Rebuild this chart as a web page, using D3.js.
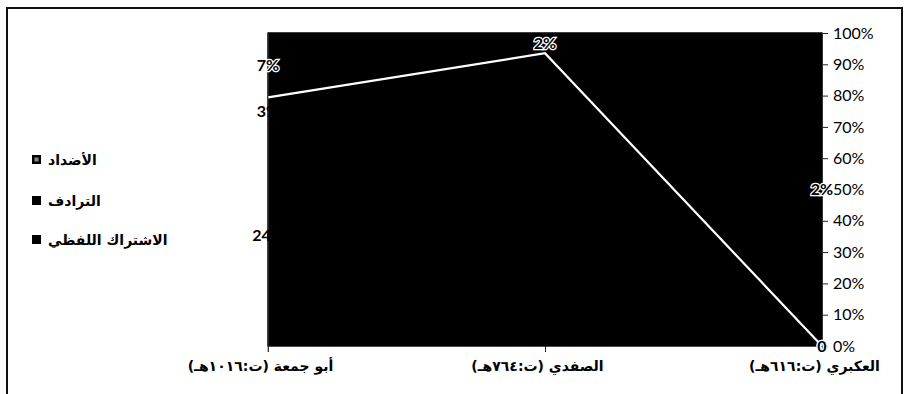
<!DOCTYPE html>
<html lang="ar">
<head>
<meta charset="utf-8">
<script src="https://cdn.jsdelivr.net/npm/d3@7/dist/d3.min.js"></script>
<style>
  html, body { margin: 0; padding: 0; background: #fff; }
  svg { display: block; }
</style>
</head>
<body>
<svg id="chart" width="907" height="394"></svg>
<script>
// Authors in chronological order (drawn right-to-left)
const categories = ["العكبري (ت:٦١٦هـ)", "الصفدي (ت:٧٦٤هـ)", "أبو جمعة (ت:١٠١٦هـ)"];

// Share of each phenomenon per author, in percent
const seriesNames = ["الاشتراك اللفظي", "الترادف", "الأضداد"];
const mushtarak = [0, 21, 24];   // الاشتراك اللفظي
const taraduf   = [0, 8, 3];     // الترادف
const addad     = [2, 2, 7];     // الأضداد

const yTicks = [0, 0.1, 0.2, 0.3, 0.4, 0.5, 0.6, 0.7, 0.8, 0.9, 1];

const rows = categories.map((c, i) => ({
  cat: c,
  [seriesNames[0]]: mushtarak[i],
  [seriesNames[1]]: taraduf[i],
  [seriesNames[2]]: addad[i]
}));

const svg = d3.select("#chart");
const plot = { left: 268, right: 822, top: 33, bottom: 346 };
const frameRight = 902;

// Outer chart frame
svg.append("rect")
  .attr("x", 7).attr("y", 8)
  .attr("width", frameRight - 7).attr("height", 400)
  .attr("fill", "none").attr("stroke", "#111").attr("stroke-width", 2);

const x = d3.scalePoint().domain(categories).range([plot.right, plot.left]);
const y = d3.scaleLinear().domain([0, 1]).range([plot.bottom, plot.top]);

const stack = d3.stack().keys(seriesNames).offset(d3.stackOffsetExpand);
const layers = stack(rows);

const area = d3.area()
  .x(d => x(d.data.cat))
  .y0(d => y(d[0]))
  .y1(d => y(d[1]));

svg.append("g").selectAll("path")
  .data(layers)
  .join("path")
  .attr("d", area)
  .attr("fill", "#000")
  .attr("stroke", "#000")
  .attr("stroke-width", 1.6)
  .attr("stroke-linejoin", "round");

// Light edge where the top series begins
const edge = d3.line()
  .x(d => x(d.data.cat))
  .y(d => y(d[0]));
svg.append("path")
  .datum(layers[2])
  .attr("d", edge)
  .attr("fill", "none")
  .attr("stroke", "#fff")
  .attr("stroke-width", 2.2);

// Value axis on the right
const yAxis = d3.axisRight(y)
  .tickValues(yTicks)
  .tickFormat(d3.format(".0%"))
  .tickSize(5)
  .tickPadding(5);
const ya = svg.append("g")
  .attr("transform", `translate(${plot.right + 1},0)`)
  .call(yAxis);
ya.select(".domain").remove();
ya.selectAll(".tick line").attr("stroke", "#222");
ya.selectAll(".tick text")
  .attr("font-family", "Lato, 'Open Sans', sans-serif")
  .attr("font-size", 16)
  .attr("fill", "#000");

// Category axis along the bottom
const xAxis = d3.axisBottom(x).tickSize(6).tickPadding(9);
const xa = svg.append("g")
  .attr("transform", `translate(0,${plot.bottom})`)
  .call(xAxis);
xa.select(".domain").attr("stroke", "#555").attr("stroke-width", 0.6);
xa.selectAll(".tick line").attr("stroke", "#222");
xa.selectAll(".tick text")
  .attr("font-family", "'DejaVu Sans', sans-serif")
  .attr("font-weight", "bold")
  .attr("font-size", 14)
  .attr("fill", "#000")
  .attr("dx", -8);
// keep the outermost category label inside the frame
xa.selectAll(".tick text").each(function () {
  const tick = this.parentNode;
  const tx = +d3.select(tick).attr("transform").match(/translate\(([-\d.]+)/)[1];
  const bb = this.getBBox();
  const overflow = tx + bb.x + bb.width - (frameRight - 20);
  if (overflow > 0) d3.select(this).attr("dx", -8 - overflow);
});

// Left edge of the plot
svg.append("line")
  .attr("x1", plot.left).attr("x2", plot.left)
  .attr("y1", plot.top).attr("y2", plot.bottom + 6)
  .attr("stroke", "#555").attr("stroke-width", 0.8);

// Data labels at the middle of each band
const fmt = v => v === 0 ? "0" : v + "%";
layers.forEach((layer, li) => {
  const halo = d => li === 2 || d.data[seriesNames[li]] === 0;
  svg.append("g").selectAll("text")
    .data(layer)
    .join("text")
    .attr("x", d => x(d.data.cat))
    .attr("y", d => y((d[0] + d[1]) / 2))
    .attr("dy", "0.35em")
    .attr("text-anchor", "middle")
    .attr("font-family", "Lato, 'Open Sans', sans-serif")
    .attr("font-weight", "bold")
    .attr("font-size", 16)
    .attr("fill", "#000")
    .attr("stroke", d => halo(d) ? "#fff" : "none")
    .attr("stroke-width", d => halo(d) ? 2.5 : 0)
    .attr("paint-order", "stroke")
    .text(d => fmt(d.data[seriesNames[li]]));
});

// Legend (top series first)
const legendItems = seriesNames.slice().reverse();
const legendY = [160, 201, 240];
const lg = svg.append("g");
legendItems.forEach((name, i) => {
  const g = lg.append("g").attr("transform", `translate(32,${legendY[i]})`);
  g.append("rect")
    .attr("x", 0).attr("y", -5)
    .attr("width", 9).attr("height", 9)
    .attr("fill", "#000");
  if (i === 0) {
    g.append("rect")
      .attr("x", 2.5).attr("y", -2.5)
      .attr("width", 4).attr("height", 4)
      .attr("fill", "#888");
  }
  g.append("text")
    .attr("x", 16).attr("y", 0)
    .attr("dy", "0.35em")
    .attr("text-anchor", "start")
    .attr("font-family", "'DejaVu Sans', sans-serif")
    .attr("font-weight", "bold")
    .attr("font-size", 14)
    .attr("fill", "#000")
    .text(name);
});
</script>
</body>
</html>
